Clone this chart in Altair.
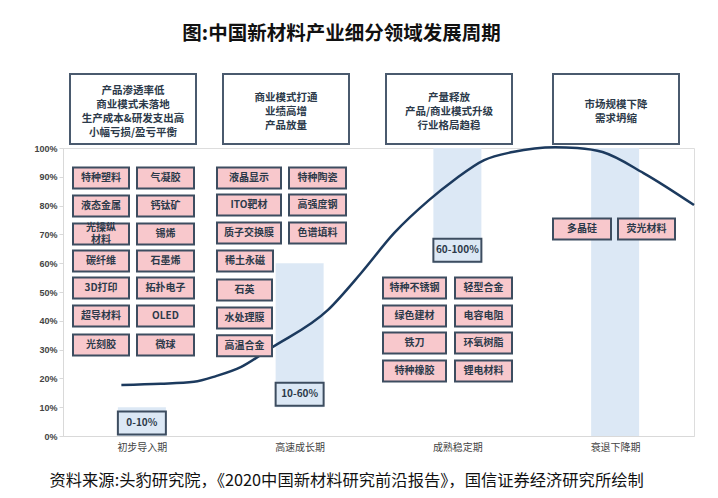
import altair as alt
import pandas as pd

# ---------------- data ----------------
stages = ["初步导入期", "高速成长期", "成熟稳定期", "衰退下降期"]
penetration_labels = ["0-10%", "10-60%", "60-100%"]
bar_low = [0, 10, 60, 0]
bar_high = [10, 60, 100, 100]

header_texts = [
    "产品渗透率低\n商业模式未落地\n生产成本&研发支出高\n小幅亏损/盈亏平衡",
    "商业模式打通\n业绩高增\n产品放量",
    "产量释放\n产品/商业模式升级\n行业格局趋稳",
    "市场规模下降\n需求坍缩",
]

intro_left = ["特种塑料", "液态金属", "光操纵\n材料", "碳纤维", "3D打印", "超导材料", "光刻胶"]
intro_right = ["气凝胶", "钙钛矿", "锡烯", "石墨烯", "拓扑电子", "OLED", "微球"]
intro_levels = [89.6, 79.9, 70.1, 60.8, 51.4, 41.7, 31.6]

growth_left = ["液晶显示", "ITO靶材", "质子交换膜", "稀土永磁", "石英", "水处理膜", "高温合金"]
growth_right = ["特种陶瓷", "高强度钢", "色谱填料"]
growth_levels = [89.6, 80.2, 70.5, 60.8, 50.7, 41.0, 31.3]

mature_left = ["特种不锈钢", "绿色建材", "铁刀", "特种橡胶"]
mature_right = ["轻型合金", "电容电阻", "环氧树脂", "锂电材料"]
mature_levels = [51.4, 41.7, 32.3, 22.6]

decline_items = ["多晶硅", "荧光材料"]
decline_levels = [71.9, 71.9]

# life-cycle curve (x in stage units, y in %)
curve_x = [0.37, 0.62, 0.83, 0.97, 1.13, 1.32, 1.68, 1.89, 2.10, 2.32, 2.48,
           2.67, 2.85, 3.12, 3.26, 3.42, 3.68, 4.0]
curve_y = [17.7, 18.1, 18.8, 20.8, 24.0, 30.6, 43.8, 56.6, 70.5, 81.9, 88.9,
           95.8, 98.6, 100.3, 100.0, 98.6, 91.3, 80.2]

title_text = "图:中国新材料产业细分领域发展周期"
source_text = "资料来源:头豹研究院，《2020中国新材料研究前沿报告》，国信证券经济研究所绘制"

# ---------------- layout ----------------
W, H = 631, 288
PX = W / 4.0          # pixels per stage band
PCT = H / 100.0       # pixels per percent


def u(px):
    return px / PX


def p(px):
    return px / PCT


FONT = "Noto Sans CJK SC"
DARK = "#2c3a4a"
STROKE = "#3d4d60"
PINK = "#f8c8cc"
BLUE = "#dce8f5"
BOX_LH = 12
HEAD_LH = 14

# pink material boxes: (names, levels, left edge px, widths px)
cols = [
    (intro_left, intro_levels, 10, [56] * 7),
    (intro_right, intro_levels, 74, [57] * 7),
    (growth_left, growth_levels, 154, [64, 64, 64, 56, 55, 55, 55]),
    (growth_right, growth_levels, 226, [57] * 3),
    (mature_left, mature_levels, 320, [63] * 4),
    (mature_right, mature_levels, 392, [57] * 4),
    (decline_items[:1], decline_levels[:1], 490, [58]),
    (decline_items[1:], decline_levels[1:], 555, [57]),
]
box_rows = []
half_h = p(10.5)
for names, levels, left, widths in cols:
    for n, lv, w in zip(names, levels, widths):
        nl = n.count("\n")
        box_rows.append({"name": n, "x": u(left), "x2": u(left + w),
                         "xc": u(left + w / 2), "y": lv - half_h, "y2": lv + half_h,
                         "yc": lv + p(nl * BOX_LH / 2)})
boxes = pd.DataFrame(box_rows)

# stage bars
bar_half = u(24)
bars = pd.DataFrame({
    "stage": stages,
    "x": [i + 0.5 - bar_half for i in range(4)],
    "x2": [i + 0.5 + bar_half for i in range(4)],
    "y": bar_low, "y2": bar_high,
})
labels = pd.DataFrame({
    "name": penetration_labels,
    "x": [i + 0.5 - bar_half for i in range(3)],
    "x2": [i + 0.5 + bar_half for i in range(3)],
    "xc": [i + 0.5 for i in range(3)],
    "y": [lo + 0.5 for lo in bar_low[:3]],
    "y2": [lo + 8.5 for lo in bar_low[:3]],
    "yc": [lo + 4.5 for lo in bar_low[:3]],
})

# header boxes (above the plot area)
head_left = [7, 160, 323, 490]
head_w = 126
head_center = 100 + p(36.5)
heads = pd.DataFrame({
    "name": header_texts,
    "x": [u(l) for l in head_left],
    "x2": [u(l + head_w) for l in head_left],
    "xc": [u(l + head_w / 2) for l in head_left],
    "y": [100 + p(4)] * 4,
    "y2": [100 + p(74)] * 4,
    "yc": [head_center + p(t.count("\n") * HEAD_LH / 2) for t in header_texts],
})

curve = pd.DataFrame({"x": curve_x, "y": curve_y})

# ---------------- scales / axes ----------------
xs = alt.Scale(domain=[0, 4], nice=False, zero=False)
ys = alt.Scale(domain=[0, 100], nice=False, zero=False)

label_expr = "[" + ",".join(f"'{s}'" for s in stages) + "][floor(datum.value)]"
xaxis = alt.Axis(
    values=[0.5, 1.5, 2.5, 3.5], labelExpr=label_expr, ticks=False, grid=False,
    domainColor="#d9d9d9", labelColor="#444444", labelFontSize=10, labelFont=FONT,
    labelPadding=6,
    title=source_text, titleFont=FONT, titleFontSize=16.3, titleFontWeight="normal",
    titleColor="#111111", titleX=-14, titleY=44, titleAlign="left", titleBaseline="middle",
)
yaxis = alt.Axis(
    values=list(range(0, 101, 10)), labelExpr="datum.value + '%'", grid=False,
    domainColor="#d9d9d9", tickColor="#d9d9d9", tickSize=4, labelColor="#444444",
    labelFontSize=9, labelFont="Liberation Sans", labelFontWeight="bold", labelPadding=2,
    title=None,
)


def X(f="x"):
    return alt.X(f"{f}:Q", scale=xs, axis=xaxis)


def Y(f="y"):
    return alt.Y(f"{f}:Q", scale=ys, axis=yaxis)


bar_layer = alt.Chart(bars).mark_rect(fill=BLUE).encode(
    x=X(), x2="x2:Q", y=Y(), y2="y2:Q")

label_box = alt.Chart(labels).mark_rect(fill=BLUE, stroke=STROKE, strokeWidth=2).encode(
    x=X(), x2="x2:Q", y=Y(), y2="y2:Q")
label_text = alt.Chart(labels).mark_text(
    font=FONT, fontSize=10, fontWeight="bold", color=DARK, baseline="middle").encode(
    x=X("xc"), y=Y("yc"), text="name:N")

curve_layer = alt.Chart(curve).mark_line(
    color="#1c3a5e", strokeWidth=2.5, interpolate="monotone", clip=False).encode(
    x=X(), y=Y(), order="x:Q")

pink_box = alt.Chart(boxes).mark_rect(fill=PINK, stroke=STROKE, strokeWidth=2).encode(
    x=X(), x2="x2:Q", y=Y(), y2="y2:Q")
pink_text = alt.Chart(boxes).mark_text(
    font=FONT, fontSize=10, fontWeight="bold", color=DARK, baseline="middle",
    lineBreak="\n", lineHeight=BOX_LH).encode(
    x=X("xc"), y=Y("yc"), text="name:N")

head_box = alt.Chart(heads).mark_rect(fill="white", stroke="#4a5a6e", strokeWidth=2).encode(
    x=X(), x2="x2:Q", y=Y(), y2="y2:Q")
head_text = alt.Chart(heads).mark_text(
    font=FONT, fontSize=10.5, fontWeight="bold", color=DARK, baseline="middle",
    lineBreak="\n", lineHeight=HEAD_LH).encode(
    x=X("xc"), y=Y("yc"), text="name:N")

chart = alt.layer(
    bar_layer, curve_layer, label_box, label_text, pink_box, pink_text, head_box, head_text
).properties(
    width=W, height=H,
    title=alt.TitleParams(title_text, font=FONT, fontSize=19.5, fontWeight="bold",
                          color="#111111", anchor="middle", dx=-37, offset=29),
    autosize=alt.AutoSizeParams(type="none"),
    padding={"left": 55, "top": 140, "right": 16, "bottom": 54},
).configure_view(stroke=None).configure(background="white")

chart.save("out.html", embed_options={"renderer": "svg", "actions": False})
